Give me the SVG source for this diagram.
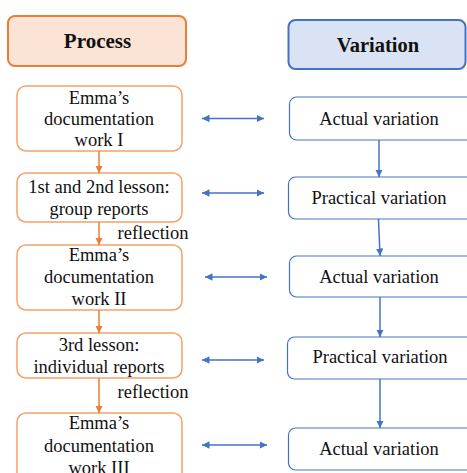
<svg xmlns="http://www.w3.org/2000/svg" width="467" height="473" viewBox="0 0 467 473">
<defs>
<style>
.t{font-family:"Liberation Serif","Times New Roman",serif;font-size:18.5px;fill:#111;text-anchor:middle}
.h{font-family:"Liberation Serif","Times New Roman",serif;font-weight:bold;fill:#111;text-anchor:middle}
.pb{fill:#fff;stroke:#F4A36B;stroke-width:1.5}
.vb{fill:#fff;stroke:#4472C4;stroke-width:1.2}
.ol{stroke:#ED7D31;stroke-width:1.5;fill:none}
.bl{stroke:#4472C4;stroke-width:1.5;fill:none}
</style>
<marker id="ao" viewBox="0 0 10 10" refX="10" refY="5" markerWidth="5" markerHeight="5" orient="auto"><path d="M0,0L10,5L0,10z" fill="#ED7D31"/></marker>
<marker id="ab" viewBox="0 0 10 10" refX="10" refY="5" markerWidth="5" markerHeight="5" orient="auto-start-reverse"><path d="M0,0L10,5L0,10z" fill="#4472C4"/></marker>
</defs>
<rect width="467" height="473" fill="#fff"/>
<g id="hdr-process"><rect x="8" y="16" width="178" height="50" rx="7" fill="#FBE3D5" stroke="#ED7D31" stroke-width="2"/><text class="h" x="97.5" y="48" font-size="21">Process</text></g>
<g id="hdr-variation"><rect x="288.5" y="20" width="177" height="49" rx="7" fill="#DAE3F3" stroke="#4472C4" stroke-width="2"/><text class="h" x="378" y="52" font-size="20.5">Variation</text></g>
<g id="p1"><rect class="pb" x="17" y="86" width="165" height="65" rx="9"/><text class="t" x="99" y="104">Emma’s</text><text class="t" x="99" y="125">documentation</text><text class="t" x="99" y="146">work I</text></g>
<g id="p2"><rect class="pb" x="17" y="173" width="165" height="49" rx="9"/><text class="t" x="99" y="193">1st and 2nd lesson:</text><text class="t" x="99" y="215">group reports</text></g>
<g id="p3"><rect class="pb" x="17" y="245" width="165" height="65" rx="9"/><text class="t" x="99" y="261">Emma’s</text><text class="t" x="99" y="283">documentation</text><text class="t" x="99" y="305">work II</text></g>
<g id="p4"><rect class="pb" x="17" y="333" width="165" height="45" rx="9"/><text class="t" x="99" y="351">3rd lesson:</text><text class="t" x="99" y="373">individual reports</text></g>
<g id="p5"><rect class="pb" x="17" y="413" width="165" height="80" rx="9"/><text class="t" x="99" y="429">Emma’s</text><text class="t" x="99" y="452">documentation</text><text class="t" x="99" y="474">work III</text></g>
<g id="v1"><rect class="vb" x="289.5" y="97" width="186" height="43" rx="7"/><text class="t" x="379" y="125">Actual variation</text></g>
<g id="v2"><rect class="vb" x="288.5" y="177" width="187" height="42" rx="7"/><text class="t" x="379" y="204">Practical variation</text></g>
<g id="v3"><rect class="vb" x="289.5" y="256" width="186" height="41" rx="7"/><text class="t" x="379" y="283">Actual variation</text></g>
<g id="v4"><rect class="vb" x="287.5" y="337" width="188" height="42" rx="7"/><text class="t" x="380" y="363">Practical variation</text></g>
<g id="v5"><rect class="vb" x="288.5" y="428" width="187" height="42" rx="7"/><text class="t" x="379" y="455">Actual variation</text></g>
<g id="connectors">
<line class="ol" x1="99" y1="151" x2="99" y2="173" marker-end="url(#ao)"/>
<line class="ol" x1="99" y1="222" x2="99" y2="245" marker-end="url(#ao)"/>
<line class="ol" x1="99" y1="310" x2="99" y2="333" marker-end="url(#ao)"/>
<line class="ol" x1="99" y1="378" x2="99" y2="413" marker-end="url(#ao)"/>
<line class="bl" x1="379" y1="140" x2="379" y2="177" marker-end="url(#ab)"/>
<line class="bl" x1="378.5" y1="219" x2="380" y2="256" marker-end="url(#ab)"/>
<line class="bl" x1="380" y1="297" x2="380" y2="337" marker-end="url(#ab)"/>
<line class="bl" x1="380" y1="379" x2="380" y2="428" marker-end="url(#ab)"/>
<line class="bl" x1="202" y1="118.5" x2="264" y2="118.5" marker-start="url(#ab)" marker-end="url(#ab)"/>
<line class="bl" x1="202" y1="193" x2="264" y2="193" marker-start="url(#ab)" marker-end="url(#ab)"/>
<line class="bl" x1="205" y1="277" x2="267" y2="277" marker-start="url(#ab)" marker-end="url(#ab)"/>
<line class="bl" x1="202" y1="360" x2="264" y2="360" marker-start="url(#ab)" marker-end="url(#ab)"/>
<line class="bl" x1="202" y1="445" x2="267" y2="445" marker-start="url(#ab)" marker-end="url(#ab)"/>
<text class="t" x="153" y="239">reflection</text>
<text class="t" x="153" y="398">reflection</text>
</g>
</svg>
